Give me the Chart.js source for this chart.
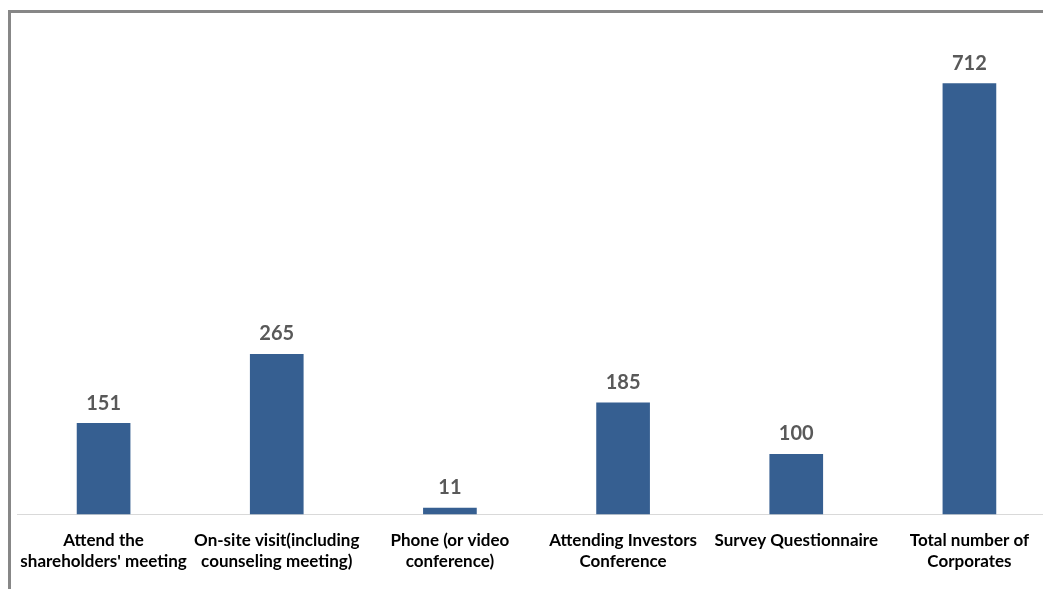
<!DOCTYPE html>
<html>
<head>
<meta charset="utf-8">
<script src="https://cdn.jsdelivr.net/npm/chart.js@4/dist/chart.umd.min.js"></script>
<style>
    html, body { margin: 0; padding: 0; background: #fff; overflow: hidden; }
    #wrap { position: absolute; left: 0; top: 0; width: 1060px; height: 589px; }
</style>
</head>
<body>
<div id="wrap"><canvas id="methods-chart"></canvas></div>
<script>
// Categories and counts
let categories = [
    ["Attend the", "shareholders' meeting"],
    ["On-site visit(including", "counseling meeting)"],
    ["Phone (or video", "conference)"],
    ["Attending Investors", "Conference"],
    ["Survey Questionnaire"],
    ["Total number of", "Corporates"]
];
let counts = [151, 265, 11, 185, 100, 712];

// frame lines on the left and top edges
const framePlugin = {
    id: 'frame',
    afterDraw(chart) {
        let ctx = chart.ctx;
        ctx.save();
        ctx.strokeStyle = '#878787';
        ctx.lineWidth = 3;
        ctx.beginPath();
        ctx.moveTo(9.5, chart.height);
        ctx.lineTo(9.5, 11.5);
        ctx.lineTo(chart.width, 11.5);
        ctx.stroke();
        ctx.restore();
    }
};

// value labels above each bar
const valueLabels = {
    id: 'valueLabels',
    afterDatasetsDraw(chart) {
        let ctx = chart.ctx;
        let meta = chart.getDatasetMeta(0);
        ctx.save();
        ctx.font = 'bold 20px Lato';
        ctx.fillStyle = '#595959';
        ctx.textAlign = 'center';
        ctx.textBaseline = 'bottom';
        meta.data.forEach((bar, i) => {
            ctx.fillText(counts[i], bar.x, bar.y - 10);
        });
        ctx.restore();
    }
};

let methodsData = {
    labels: categories,
    datasets: [{
        data: counts,
        backgroundColor: '#365f91',
        borderWidth: 0,
        barPercentage: 0.31,
        categoryPercentage: 1
    }]
};

let methodsOptions = {
    responsive: true,
    maintainAspectRatio: false,
    animation: false,
    layout: {
        padding: { left: 17, top: 30, right: 4, bottom: 2 }
    },
    scales: {
        x: {
            grid: { display: false, drawTicks: false },
            border: { display: true, color: '#d9d9d9', width: 1 },
            ticks: {
                color: '#000',
                padding: 15,
                maxRotation: 0,
                autoSkip: false,
                font: { family: 'Lato', size: 17, weight: 'bold', lineHeight: 1.25 }
            }
        },
        y: {
            display: false,
            min: 0,
            max: 800
        }
    },
    plugins: {
        legend: { display: false },
        tooltip: { enabled: false }
    }
};

let methodsChart = new Chart(document.getElementById('methods-chart'), {
    type: 'bar',
    data: methodsData,
    options: methodsOptions,
    plugins: [valueLabels, framePlugin]
});
</script>
</body>
</html>
